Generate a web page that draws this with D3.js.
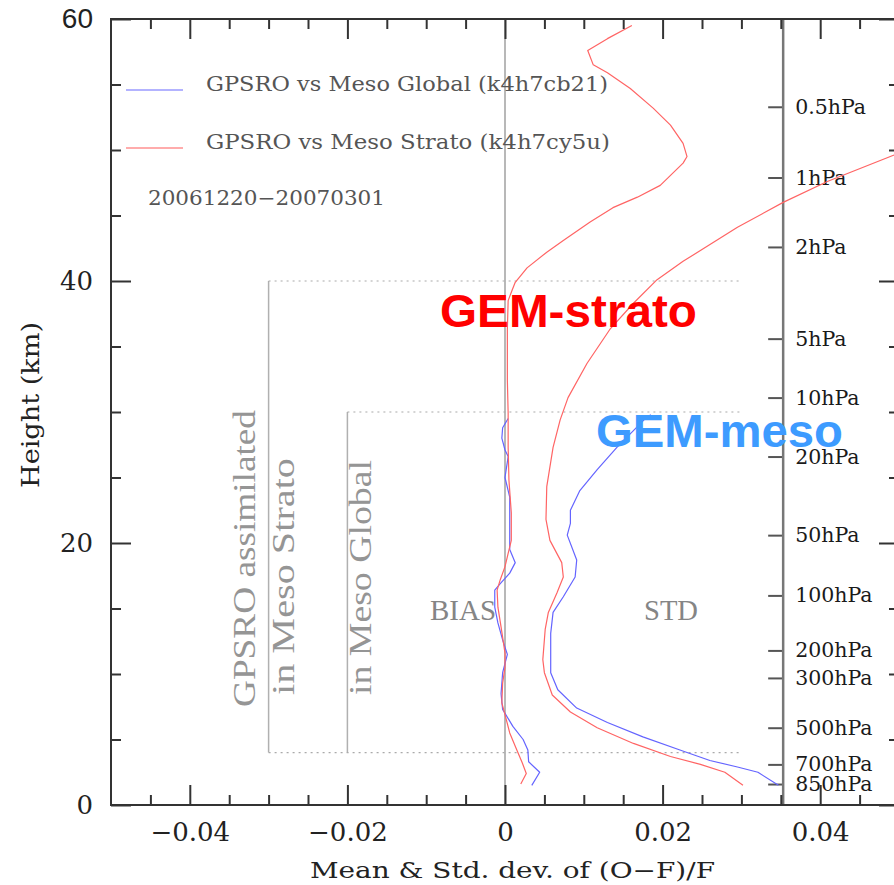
<!DOCTYPE html>
<html>
<head>
<meta charset="utf-8">
<script src="https://cdn.jsdelivr.net/npm/d3@7"></script>
<style>
  body { margin: 0; background: #fff; }
  svg { display: block; }
</style>
</head>
<body>
<div class="chart"></div>
<script>
// Set Dimensions
const xSize = 894; const ySize = 885;
const margin = {top: 19, left: 111, right: 899, bottom: 805};

// x tick values
const xMajor = [-0.04, -0.02, 0, 0.02, 0.04];
const xMinor = [-0.045, -0.035, -0.03, -0.025, -0.015, -0.01, -0.005, 0.005, 0.01, 0.015, 0.025, 0.03, 0.035, 0.045];
// y tick values (km)
const yMajor = [0, 20, 40, 60];
const yMinor = [5, 10, 15, 25, 30, 35, 45, 50, 55];

// pressure levels on the inner axis
const pLabels = ["0.5hPa", "1hPa", "2hPa", "5hPa", "10hPa", "20hPa", "50hPa", "100hPa", "200hPa", "300hPa", "500hPa", "700hPa", "850hPa"];
const pHeights = [53.3, 47.9, 42.6, 35.6, 31.1, 26.6, 20.6, 16.0, 11.8, 9.7, 5.9, 3.1, 1.6];

// Meso Strato bias (red)
const stratoBiasH = [59.5, 58.5, 57.6, 56.5, 55.9, 54.7, 53.2, 51.9, 50.5, 49.5, 49.0, 47.3, 46.4, 45.6, 44.5, 43.1, 42.2, 41.0, 39.9, 39.3, 38.5, 36.3, 32.4, 29.9, 27.3, 24.8, 22.3, 20.2, 19.2, 18.2, 17.2, 16.4, 15.1, 13.6, 11.6, 10.5, 9.3, 7.8, 6.9, 5.5, 4.2, 3.2, 2.4, 1.6];
const stratoBias  = [0.0161, 0.0130, 0.0105, 0.0112, 0.0130, 0.0159, 0.0188, 0.0210, 0.0226, 0.0231, 0.0226, 0.0197, 0.0168, 0.0137, 0.0108, 0.0074, 0.0053, 0.0028, 0.0013, 0.0009, 0.0004, 0.0003, 0.0003, 0.0004, 0.0004, 0.0005, 0.0008, 0.0008, 0.0004, 0.0000, -0.0006, -0.0010, -0.0009, -0.0005, 0.0000, 0.0000, -0.0003, -0.0004, 0.0000, 0.0006, 0.0015, 0.0022, 0.0027, 0.0020];

// Meso Global bias (blue)
const mesoBiasH = [29.5, 28.8, 28.0, 27.1, 26.6, 25.0, 23.5, 20.8, 19.5, 18.5, 17.7, 16.9, 16.4, 15.1, 13.9, 12.6, 11.5, 10.1, 8.5, 7.3, 6.0, 5.0, 4.2, 3.3, 2.5, 1.5];
const mesoBias  = [0.0004, -0.0003, -0.0004, 0.0000, 0.0004, 0.0000, 0.0006, 0.0006, 0.0006, 0.0013, 0.0006, -0.0006, -0.0013, -0.0013, -0.0009, -0.0003, 0.0003, -0.0003, -0.0005, -0.0003, 0.0010, 0.0023, 0.0029, 0.0030, 0.0044, 0.0034];

// Meso Strato std (red)
const stratoStdH = [50.0, 49.6, 47.6, 46.0, 44.1, 41.5, 40.1, 38.3, 36.3, 33.7, 31.1, 29.4, 27.3, 24.3, 21.8, 20.2, 18.5, 17.4, 16.2, 14.7, 13.4, 11.1, 10.1, 8.4, 7.1, 5.9, 4.7, 3.7, 3.1, 2.5, 1.5];
const stratoStd  = [0.0508, 0.0493, 0.0409, 0.0353, 0.0295, 0.0226, 0.0193, 0.0163, 0.0133, 0.0104, 0.0080, 0.0070, 0.0061, 0.0053, 0.0052, 0.0057, 0.0072, 0.0074, 0.0066, 0.0055, 0.0051, 0.0048, 0.0050, 0.0060, 0.0083, 0.0117, 0.0163, 0.0210, 0.0248, 0.0279, 0.0302];

// Meso Global std (blue)
const mesoStdH = [29.8, 29.5, 27.3, 25.6, 24.0, 22.5, 21.5, 20.6, 18.7, 17.4, 15.9, 14.7, 13.1, 10.1, 8.8, 7.4, 6.3, 5.2, 4.2, 3.4, 2.9, 2.5, 1.5];
const mesoStd  = [0.0185, 0.0178, 0.0142, 0.0117, 0.0095, 0.0083, 0.0083, 0.0079, 0.0091, 0.0089, 0.0074, 0.0061, 0.0058, 0.0058, 0.0067, 0.0091, 0.0130, 0.0175, 0.0222, 0.0260, 0.0295, 0.0321, 0.0347];

const pAxisAt = 0.0353;

const serif = "'DejaVu Serif', serif";

const svg = d3.select(".chart")
    .append("svg")
    .attr("width", xSize)
    .attr("height", ySize);

const x = d3.scaleLinear().domain([-0.05, 0.05]).range([margin.left, margin.right]);
const y = d3.scaleLinear().domain([0, 60]).range([margin.bottom, margin.top]);

svg.append("clipPath").attr("id", "plotclip")
    .append("rect")
    .attr("x", margin.left).attr("y", margin.top)
    .attr("width", margin.right - margin.left)
    .attr("height", margin.bottom - margin.top);

// zero line
svg.append("line")
    .attr("x1", x(0)).attr("x2", x(0))
    .attr("y1", y(60)).attr("y2", y(0))
    .attr("stroke", "#a0a0a0").attr("stroke-width", 1.5);

// assimilation boxes
const solid = [[-0.03, 40, 4], [-0.02, 30, 4]];
solid.forEach(function(s) {
    svg.append("line")
        .attr("x1", x(s[0])).attr("x2", x(s[0]))
        .attr("y1", y(s[1])).attr("y2", y(s[2]))
        .attr("stroke", "#b0b0b0").attr("stroke-width", 1.5);
});
const dotted = [[40, -0.03, 0.03], [30, -0.02, 0.03], [4, -0.03, 0.03]];
dotted.forEach(function(d) {
    svg.append("line")
        .attr("x1", x(d[1])).attr("x2", x(d[2]))
        .attr("y1", y(d[0])).attr("y2", y(d[0]))
        .attr("stroke", "#aaa").attr("stroke-width", 1.2)
        .attr("stroke-dasharray", "2,4");
});

// pressure axis
svg.append("g")
    .attr("transform", "translate(" + x(pAxisAt) + ",0)")
    .call(d3.axisRight(y).tickValues(pHeights).tickSize(-15).tickPadding(12)
        .tickFormat(function(d, i) { return pLabels[i]; }))
    .call(function(g) {
        g.select(".domain").remove();
        g.selectAll(".tick line").attr("stroke", "#555").attr("stroke-width", 2);
        g.selectAll("text").attr("font-family", serif).attr("font-size", 20.5).attr("fill", "#1a1a1a");
    });
svg.append("line")
    .attr("x1", x(pAxisAt)).attr("x2", x(pAxisAt))
    .attr("y1", y(60)).attr("y2", y(0))
    .attr("stroke", "#777").attr("stroke-width", 2.5);

// curves
const line = d3.line()
    .x(function(d) { return x(d[0]); })
    .y(function(d) { return y(d[1]); });

function addCurve(vals, hs, color) {
    svg.append("path")
        .datum(vals.map(function(v, i) { return [v, hs[i]]; }))
        .attr("clip-path", "url(#plotclip)")
        .attr("fill", "none")
        .attr("stroke", color)
        .attr("stroke-width", 1.2)
        .attr("stroke-linejoin", "round")
        .attr("d", line);
}
addCurve(stratoStd, stratoStdH, "#ff6464");
addCurve(mesoStd, mesoStdH, "#6464ff");
addCurve(mesoBias, mesoBiasH, "#6464ff");
addCurve(stratoBias, stratoBiasH, "#ff6464");

// frame
svg.append("rect")
    .attr("x", margin.left).attr("y", margin.top)
    .attr("width", margin.right - margin.left)
    .attr("height", margin.bottom - margin.top)
    .attr("fill", "none").attr("stroke", "#333").attr("stroke-width", 2);

function styleTicks(g) {
    g.select(".domain").remove();
    g.selectAll(".tick line").attr("stroke", "#333").attr("stroke-width", 2);
}

// bottom axis
svg.append("g").attr("transform", "translate(0," + margin.bottom + ")")
    .call(d3.axisBottom(x).tickValues(xMinor).tickSize(-10).tickFormat(""))
    .call(styleTicks);
svg.append("g").attr("transform", "translate(0," + margin.bottom + ")")
    .call(d3.axisBottom(x).tickValues(xMajor).tickSize(-20).tickPadding(18)
        .tickFormat(function(d) { return d === 0 ? "0" : d3.format(".2f")(d); }))
    .call(styleTicks)
    .call(function(g) {
        g.selectAll("text").attr("font-family", serif).attr("font-size", 26).attr("fill", "#222");
    });
// top axis
svg.append("g").attr("transform", "translate(0," + margin.top + ")")
    .call(d3.axisTop(x).tickValues(xMinor).tickSize(-10).tickFormat(""))
    .call(styleTicks);
svg.append("g").attr("transform", "translate(0," + margin.top + ")")
    .call(d3.axisTop(x).tickValues(xMajor).tickSize(-20).tickFormat(""))
    .call(styleTicks);
// left axis
svg.append("g").attr("transform", "translate(" + margin.left + ",0)")
    .call(d3.axisLeft(y).tickValues(yMinor).tickSize(-10).tickFormat(""))
    .call(styleTicks);
svg.append("g").attr("transform", "translate(" + margin.left + ",0)")
    .call(d3.axisLeft(y).tickValues(yMajor).tickSize(-20).tickPadding(18))
    .call(styleTicks)
    .call(function(g) {
        g.selectAll("text").attr("font-family", serif).attr("font-size", 26).attr("fill", "#222");
        g.selectAll(".tick").filter(function(d) { return d === 60; }).select("text")
            .attr("font-family", "'Liberation Sans', Arial, sans-serif").attr("font-size", 28);
    });
// right axis
svg.append("g").attr("transform", "translate(" + margin.right + ",0)")
    .call(d3.axisRight(y).tickValues(yMinor).tickSize(-10).tickFormat(""))
    .call(styleTicks);
svg.append("g").attr("transform", "translate(" + margin.right + ",0)")
    .call(d3.axisRight(y).tickValues(yMajor).tickSize(-20).tickFormat(""))
    .call(styleTicks);

// axis titles
svg.append("text")
    .attr("transform", "translate(39,488) rotate(-90)")
    .attr("font-family", serif).attr("font-size", 25).attr("fill", "#222")
    .attr("textLength", 166).attr("lengthAdjust", "spacingAndGlyphs")
    .text("Height (km)");
svg.append("text")
    .attr("x", 310).attr("y", 878)
    .attr("font-family", serif).attr("font-size", 22).attr("fill", "#222")
    .attr("textLength", 405).attr("lengthAdjust", "spacingAndGlyphs")
    .text("Mean & Std. dev. of (O\u2212F)/F");

// legend
const legend = [
    {label: "GPSRO vs Meso Global (k4h7cb21)", color: "#9a9aff", yy: 90, len: 402},
    {label: "GPSRO vs Meso Strato (k4h7cy5u)", color: "#ff9090", yy: 148, len: 404}
];
legend.forEach(function(l) {
    svg.append("line").attr("x1", 126).attr("x2", 183).attr("y1", l.yy).attr("y2", l.yy)
        .attr("stroke", l.color).attr("stroke-width", 1.5);
    svg.append("text").attr("x", 206).attr("y", l.yy + 1)
        .attr("font-family", serif).attr("font-size", 20).attr("fill", "#555")
        .attr("textLength", l.len).attr("lengthAdjust", "spacingAndGlyphs")
        .text(l.label);
});
svg.append("text").attr("x", 148).attr("y", 205)
    .attr("font-family", serif).attr("font-size", 20).attr("fill", "#555")
    .attr("textLength", 237).attr("lengthAdjust", "spacingAndGlyphs")
    .text("20061220\u221220070301");

// annotations
const lightSerif = "'Liberation Serif', serif";
function vText(tx, ty, len, str) {
    svg.append("text")
        .attr("transform", "translate(" + tx + "," + ty + ") rotate(-90)")
        .attr("font-family", lightSerif).attr("font-size", 31).attr("fill", "#959595")
        .attr("textLength", len).attr("lengthAdjust", "spacingAndGlyphs")
        .text(str);
}
vText(255, 707, 297, "GPSRO assimilated");
vText(294, 695, 237, "in Meso Strato");
vText(371, 695, 235, "in Meso Global");

svg.append("text").attr("x", 430).attr("y", 620)
    .attr("font-family", lightSerif).attr("font-size", 30).attr("fill", "#858585")
    .attr("textLength", 66).attr("lengthAdjust", "spacingAndGlyphs")
    .text("BIAS");
svg.append("text").attr("x", 644).attr("y", 620)
    .attr("font-family", lightSerif).attr("font-size", 30).attr("fill", "#858585")
    .attr("textLength", 54).attr("lengthAdjust", "spacingAndGlyphs")
    .text("STD");

svg.append("text").attr("x", 440).attr("y", 327)
    .attr("font-family", "'Liberation Sans', Arial, sans-serif").attr("font-weight", "bold")
    .attr("font-size", 47).attr("fill", "#ff0000")
    .attr("textLength", 257).attr("lengthAdjust", "spacingAndGlyphs")
    .text("GEM-strato");
svg.append("text").attr("x", 596).attr("y", 447)
    .attr("font-family", "'Liberation Sans', Arial, sans-serif").attr("font-weight", "bold")
    .attr("font-size", 47).attr("fill", "#3d9bff")
    .attr("textLength", 247).attr("lengthAdjust", "spacingAndGlyphs")
    .text("GEM-meso");
</script>
</body>
</html>
